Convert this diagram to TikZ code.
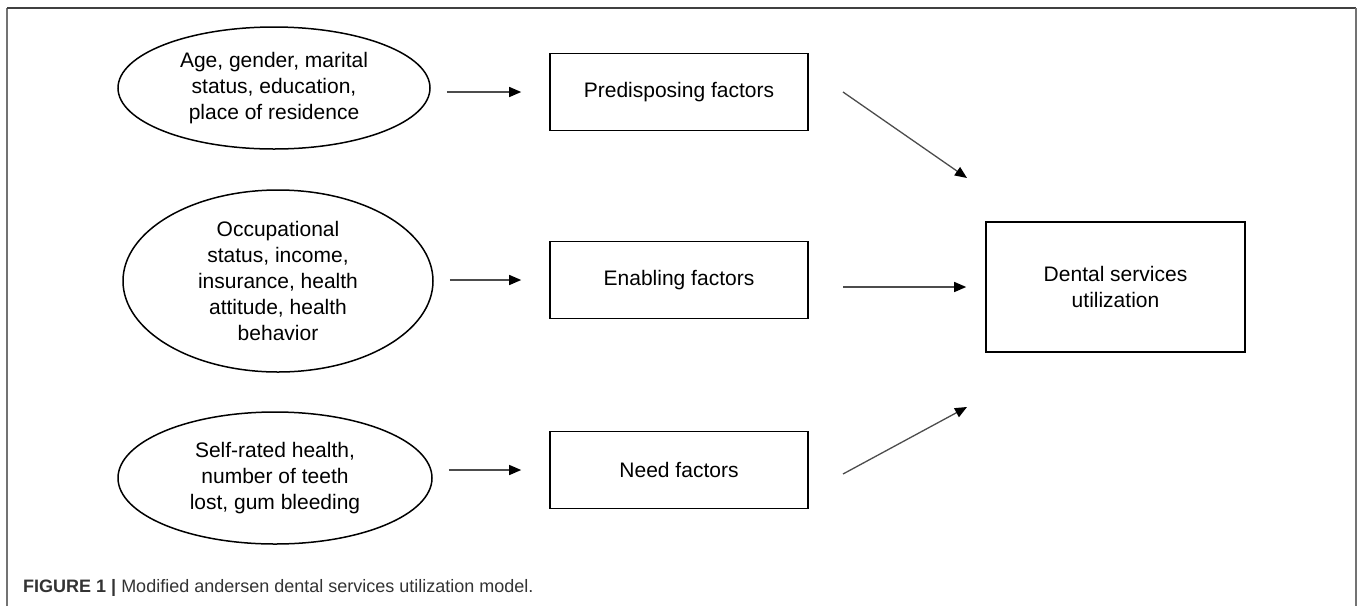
\documentclass[tikz,border=0pt]{standalone}
\usepackage{fontspec}
\setmainfont{Liberation Sans}
\usetikzlibrary{shapes.geometric,arrows.meta}

\tikzset{
  every factor/.style={draw, line width=1.6pt, rectangle, minimum width=258pt,
    minimum height=77pt, inner sep=0pt, align=center,
    font=\fontsize{21}{26}\selectfont},
  every source/.style={draw, line width=1.5pt, ellipse, inner sep=0pt, align=center,
    font=\fontsize{21}{26}\selectfont},
  link/.style={draw=black!70, line width=1.3pt,
    -{Triangle[length=12pt,width=10pt,color=black]}},
  frame/.style={line width=1.6pt}
}

\begin{document}
\begin{tikzpicture}[x=1pt, y=-1pt]
  \useasboundingbox (0,0) rectangle (1357,606);
  % frame, open at the bottom
  \draw[frame, black!55] (7,606) -- (7,8);
  \draw[frame, black!75] (7,8) -- (1356,8);
  \draw[frame, black!55] (1356,8) -- (1356,606);
  % sources
  \node[every source/.try, minimum width=312pt, minimum height=122pt] (ell-1) at (274,88)
    {Age, gender, marital\\status, education,\\place of residence};
  \node[every source/.try, minimum width=310pt, minimum height=182pt] (ell-2) at (278,281)
    {Occupational\\status, income,\\insurance, health\\attitude, health\\behavior};
  \node[every source/.try, minimum width=314pt, minimum height=132pt] (ell-3) at (275,478)
    {Self-rated health,\\number of teeth\\lost, gum bleeding};
  % factors
  \foreach \t/\y [count=\i] in {Predisposing factors/92, Enabling factors/280, Need factors/470}
    \node[every factor/.try] (box-\i) at (679,\y) {\t};
  \node[every factor/.try, minimum width=259pt, minimum height=130pt] (util) at (1115.5,287)
    {Dental services\\utilization};
  \foreach \i in {1,2,3}
    \draw[link, shorten <=16pt, shorten >=28pt] (ell-\i.east |- box-\i.west) -- (box-\i.west);
  % into utilization
  \coordinate (out-1) at (843,92);
  \coordinate (in-1) at (967,178);
  \coordinate (out-2) at (843,287);
  \coordinate (out-3) at (843,474);
  \coordinate (in-3) at (967,407);
  \draw[link] (out-1) -- (in-1);
  \draw[link, shorten >=19pt] (out-2) -- (util.west);
  \draw[link] (out-3) -- (in-3);
  \node[anchor=base west, inner sep=0pt, text=black!80, font=\fontsize{18}{22}\selectfont] (cap) at (23,592)
    {\textbf{FIGURE 1 |} Modified andersen dental services utilization model.};
\end{tikzpicture}
\end{document}
